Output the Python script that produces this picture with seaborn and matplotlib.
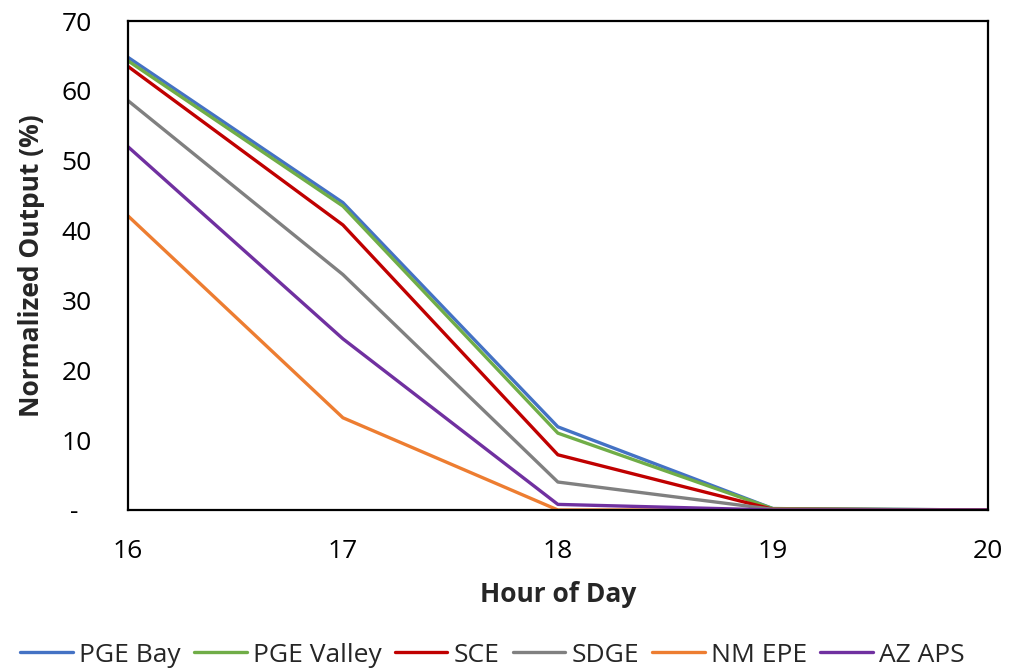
import matplotlib
matplotlib.use("Agg")
import matplotlib.pyplot as plt
import seaborn as sns
import pandas as pd

hours = [16, 17, 18, 19, 20]
pge_bay = [64.8, 44.0, 11.9, 0.2, 0.0]
pge_valley = [64.3, 43.5, 11.0, 0.2, 0.0]
sce = [63.5, 40.8, 7.9, 0.1, 0.0]
sdge = [58.6, 33.7, 4.0, 0.1, 0.0]
nm_epe = [42.1, 13.2, 0.0, 0.0, 0.0]
az_aps = [52.0, 24.5, 0.8, 0.0, 0.0]
series_names = ["PGE Bay", "PGE Valley", "SCE", "SDGE", "NM EPE", "AZ APS"]
colors = ["#4472C4", "#70AD47", "#C00000", "#808080", "#ED7D31", "#7030A0"]
y_ticks = [0, 10, 20, 30, 40, 50, 60, 70]
y_tick_labels = ["-  ", "10", "20", "30", "40", "50", "60", "70"]

sns.set_theme(style="white")
plt.rcParams['font.family'] = ['Open Sans', 'DejaVu Sans']

df = pd.DataFrame({"hour": hours * 6,
                   "value": pge_bay + pge_valley + sce + sdge + nm_epe + az_aps,
                   "series": sum([[n] * len(hours) for n in series_names], [])})

fig = plt.figure(figsize=(10.11, 6.69), dpi=100)
ax = fig.add_axes([0.1266, 0.2377, 0.8504, 0.7309])
sns.lineplot(data=df, x="hour", y="value", hue="series", hue_order=series_names,
             palette=colors, linewidth=2.4, ax=ax, legend=True)
ax.set_xlim(16, 20)
ax.set_ylim(0, 70)
ax.set_xticks(hours)
ax.set_yticks(y_ticks)
ax.set_yticklabels(y_tick_labels)
ax.tick_params(axis="both", labelsize=19, colors="black", length=0)
ax.tick_params(axis="y", pad=26)
ax.tick_params(axis="x", pad=21)
for s in ax.spines.values():
    s.set_color("black")
    s.set_linewidth(1.6)
ax.set_xlabel("Hour of Day", fontsize=19, fontweight="bold", labelpad=12)
ax.set_ylabel("Normalized Output (%)", fontsize=19, fontweight="bold", labelpad=12)
handles, labels = ax.get_legend_handles_labels()
ax.legend(handles, labels, loc="center", bbox_to_anchor=(0.424, -0.297), ncol=6,
          frameon=False, fontsize=19, handlelength=2.0, handletextpad=0.23,
          columnspacing=0.5)
fig.savefig("out.png", dpi=100)
